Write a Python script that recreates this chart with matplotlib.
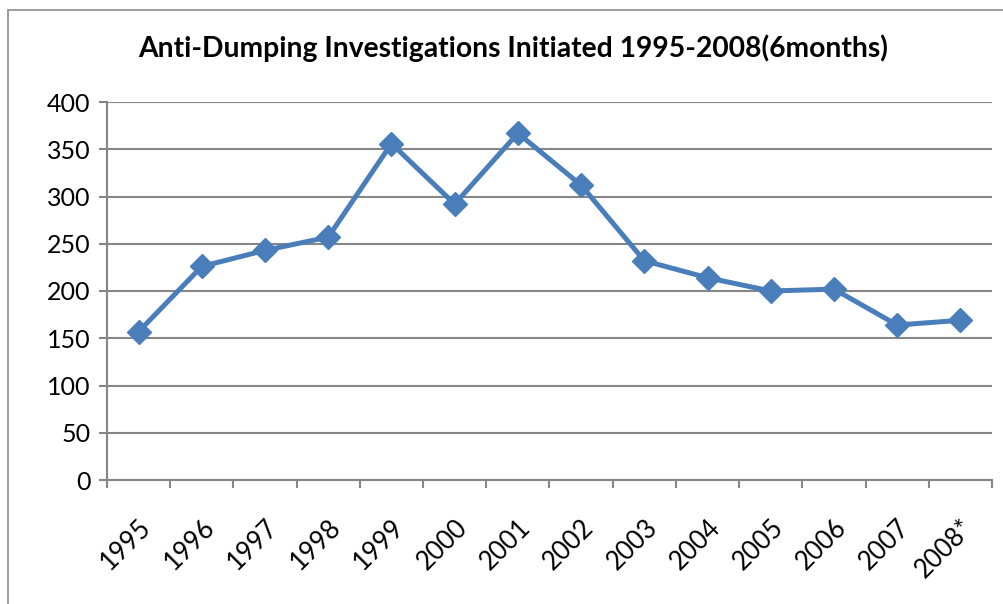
import matplotlib
matplotlib.use("Agg")
import matplotlib.pyplot as plt
import matplotlib.transforms as mtransforms
from matplotlib.patches import Rectangle

years = ["1995", "1996", "1997", "1998", "1999", "2000", "2001",
         "2002", "2003", "2004", "2005", "2006", "2007", "2008*"]
investigations = [157, 226, 243, 257, 356, 292, 367, 312, 232, 214, 200, 202, 164, 169]
yticks = [0, 50, 100, 150, 200, 250, 300, 350, 400]
title = "Anti-Dumping Investigations Initiated 1995-2008(6months)"

plt.rcParams['font.family'] = ['Lato', 'DejaVu Sans']

fig = plt.figure(figsize=(10.04, 6.04), dpi=100)
fig.patches.append(Rectangle((8.5/1004, -0.02), 1.05, 1-10/604+0.02,
                             transform=fig.transFigure, fill=False,
                             edgecolor='#8c8c8c', linewidth=1.2))
ax = fig.add_axes([107/1004, 1-480/604, (992-107)/1004, (480-102)/604])

x = list(range(len(years)))
ax.plot(x, investigations, color='#4A7EBB', linewidth=3.6, marker='D',
        markersize=12, markerfacecolor='#4A7EBB', markeredgecolor='#4A7EBB',
        solid_joinstyle='miter', zorder=3)

ax.set_xlim(-0.5, len(years) - 0.5)
ax.set_ylim(0, 400)
ax.set_yticks(yticks)
ax.set_yticklabels([str(v) for v in yticks], fontsize=18)
ax.yaxis.grid(True, color='#868686', linewidth=1.5)
ax.set_axisbelow(True)

ax.set_xticks([i - 0.5 for i in range(len(years) + 1)])
ax.set_xticklabels([])
ax.set_xticks(x, minor=True)
ax.set_xticklabels(years, minor=True, rotation=45, ha='right', va='top',
                   rotation_mode='anchor', fontsize=18.5)
offset = mtransforms.ScaledTranslation(3/100, 0, fig.dpi_scale_trans)
for lbl in ax.get_xticklabels(minor=True):
    lbl.set_transform(lbl.get_transform() + offset)
ax.tick_params(axis='x', which='minor', length=0, pad=25)
ax.tick_params(axis='x', which='major', length=6, color='#868686', width=1.5, direction='out')
ax.tick_params(axis='y', length=6, color='#868686', width=1.5, direction='out', pad=6)

for side in ['top', 'right']:
    ax.spines[side].set_visible(False)
for side in ['left', 'bottom']:
    ax.spines[side].set_color('#868686')
    ax.spines[side].set_linewidth(1.5)

fig.text(513/1004, 1-48/604, title, ha='center', va='center',
         fontsize=20.3, fontweight='bold')

fig.savefig("out.png", dpi=100)
